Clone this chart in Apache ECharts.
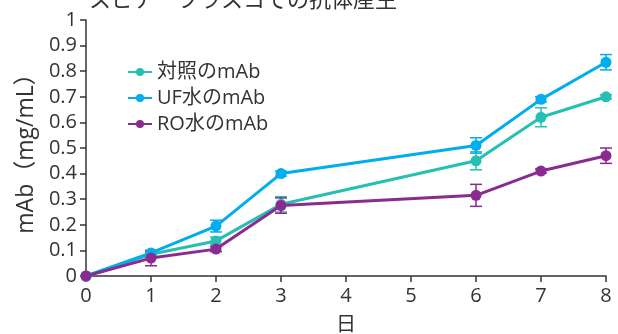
<!DOCTYPE html>
<html>
<head>
<meta charset="utf-8">
<script src="https://cdn.jsdelivr.net/npm/echarts@6/dist/echarts.min.js"></script>
<style>
html,body{margin:0;padding:0;background:#fff;}
#c{width:618px;height:334px;}
</style>
</head>
<body>
<div id="c"></div>
<script>
// Culture days and antibody concentration (mg/mL) for each water source
var days = [0, 1, 2, 3, 6, 7, 8];
var seriesNames = ['対照のmAb', 'UF水のmAb', 'RO水のmAb'];
var controlMab = [0, 0.085, 0.137, 0.28, 0.45, 0.62, 0.70];
var ufMab      = [0, 0.09, 0.195, 0.40, 0.51, 0.69, 0.835];
var roMab      = [0, 0.07, 0.105, 0.275, 0.315, 0.41, 0.47];
// Standard deviation per point
var controlErr = [0, 0.008, 0.015, 0.03, 0.035, 0.037, 0.008];
var ufErr      = [0, 0.008, 0.023, 0.01, 0.03, 0.01, 0.03];
var roErr      = [0, 0.03, 0.01, 0.03, 0.043, 0.008, 0.03];
var colors = ['#25bfb4', '#00adef', '#8b2a8f'];

var font = '"Open Sans", "Noto Sans CJK JP", sans-serif';

function pairs(vals) {
  return days.map(function (d, i) { return [d, vals[i]]; });
}
function errData(vals, errs) {
  return days.map(function (d, i) { return [d, vals[i] - errs[i], vals[i] + errs[i]]; });
}
function errorSeries(vals, errs, color) {
  return {
    type: 'custom',
    z: 1,
    silent: true,
    data: errData(vals, errs),
    renderItem: function (params, api) {
      var x = api.value(0);
      var lo = api.coord([x, api.value(1)]);
      var hi = api.coord([x, api.value(2)]);
      var w = 6;
      var st = { stroke: color, lineWidth: 1.5 };
      return {
        type: 'group',
        children: [
          { type: 'line', shape: { x1: lo[0], y1: lo[1], x2: hi[0], y2: hi[1] }, style: st },
          { type: 'line', shape: { x1: lo[0] - w, y1: lo[1], x2: lo[0] + w, y2: lo[1] }, style: st },
          { type: 'line', shape: { x1: hi[0] - w, y1: hi[1], x2: hi[0] + w, y2: hi[1] }, style: st }
        ]
      };
    }
  };
}
function lineSeries(name, vals, color) {
  return {
    name: name,
    type: 'line',
    z: 3,
    data: pairs(vals),
    symbol: 'circle',
    symbolSize: 11,
    lineStyle: { width: 3, color: color },
    itemStyle: { color: color },
    emphasis: { disabled: true }
  };
}

var chart = echarts.init(document.getElementById('c'));
chart.setOption({
  animation: false,
  color: colors,
  title: {
    text: 'スピナーフラスコでの抗体産生',
    left: 84,
    top: -15,
    textStyle: { fontFamily: font, fontSize: 22, fontWeight: 'normal', color: '#333' }
  },
  legend: {
    orient: 'vertical',
    left: 122,
    top: 57,
    itemGap: 6,
    itemWidth: 24,
    itemHeight: 10,
    data: seriesNames,
    textStyle: { fontFamily: font, fontSize: 20, color: '#333' }
  },
  grid: { left: 86, right: 12, top: 20, bottom: 58, outerBoundsMode: 'none', containLabel: false },
  xAxis: {
    type: 'value',
    min: 0, max: 8, interval: 1,
    name: '日',
    nameLocation: 'middle',
    nameGap: 39,
    nameTextStyle: { fontFamily: font, fontSize: 20, color: '#333' },
    axisLine: { lineStyle: { color: '#333', width: 1.5 } },
    axisTick: { show: true, length: 6, lineStyle: { color: '#333', width: 1.5 } },
    axisLabel: { fontFamily: font, fontSize: 20, color: '#333', margin: 10 },
    splitLine: { show: false }
  },
  yAxis: {
    type: 'value',
    min: 0, max: 1, interval: 0.1,
    name: 'mAb（mg/mL）',
    nameLocation: 'middle',
    nameGap: 40,
    nameTextStyle: { fontFamily: font, fontSize: 23, color: '#333' },
    axisLine: { show: true, lineStyle: { color: '#333', width: 1.5 } },
    axisTick: { show: true, length: 6, lineStyle: { color: '#333', width: 1.5 } },
    axisLabel: { fontFamily: font, fontSize: 20, color: '#333', margin: 9 },
    splitLine: { show: false }
  },
  series: [
    errorSeries(controlMab, controlErr, colors[0]),
    errorSeries(ufMab, ufErr, colors[1]),
    errorSeries(roMab, roErr, colors[2]),
    lineSeries(seriesNames[0], controlMab, colors[0]),
    lineSeries(seriesNames[1], ufMab, colors[1]),
    lineSeries(seriesNames[2], roMab, colors[2])
  ]
});
</script>
</body>
</html>
